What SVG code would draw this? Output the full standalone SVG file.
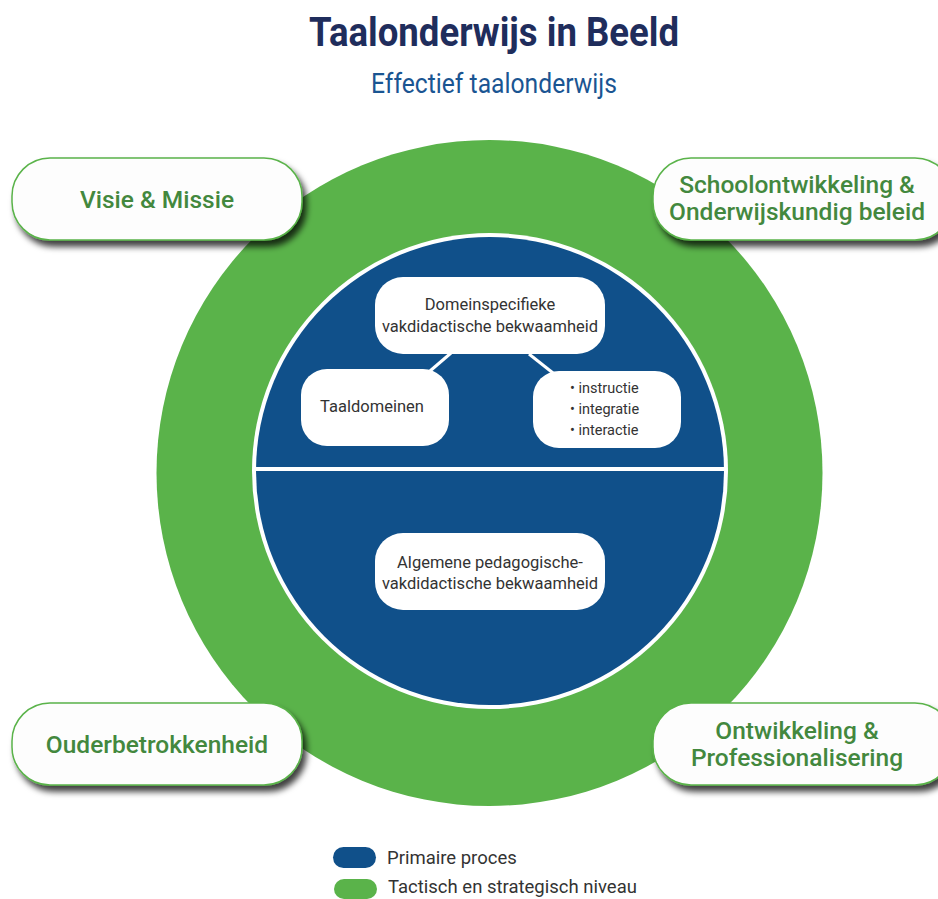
<svg xmlns="http://www.w3.org/2000/svg" width="938" height="899" viewBox="0 0 938 899">
<defs>
<style>
.title{font-family:Roboto,"Liberation Sans",sans-serif;font-weight:bold;fill:#1f2d5c;font-size:40px}
.sub{font-family:Roboto,"Liberation Sans",sans-serif;fill:#1a5592;font-size:27px}
.gbox{fill:#fdfdfd;stroke:#5ab34a;stroke-width:1.5}
.gtxt{font-family:Roboto,"Liberation Sans",sans-serif;font-weight:500;fill:#43883e;font-size:24.5px;text-anchor:middle}
.wbox{fill:#ffffff}
.itxt{font-family:Roboto,"Liberation Sans",sans-serif;fill:#333333;font-size:16.5px;text-anchor:middle}
.btxt{font-family:Roboto,"Liberation Sans",sans-serif;fill:#333333;font-size:14.5px}
.ltxt{font-family:Roboto,"Liberation Sans",sans-serif;fill:#333333;font-size:18.5px}
.conn{stroke:#ffffff;stroke-width:3}
</style>
<filter id="sh" x="-20%" y="-30%" width="150%" height="170%">
<feDropShadow dx="4" dy="6" stdDeviation="3" flood-color="#000" flood-opacity="0.75"/>
</filter>
</defs>
<rect width="938" height="899" fill="#ffffff"/>
<text class="title" x="494" y="46" text-anchor="middle" textLength="370" lengthAdjust="spacingAndGlyphs">Taalonderwijs in Beeld</text>
<text class="sub" x="494" y="93" text-anchor="middle" textLength="246" lengthAdjust="spacingAndGlyphs">Effectief taalonderwijs</text>

<g id="outer-circle"><circle cx="489.5" cy="473" r="333" fill="#5ab34a"/></g>
<g id="inner-circle">
<circle cx="490" cy="471" r="238" fill="#ffffff"/>
<circle cx="490" cy="471" r="234" fill="#10508a"/>
<line x1="254" y1="469" x2="726" y2="469" stroke="#ffffff" stroke-width="4"/>
</g>

<g id="connectors">
<line class="conn" x1="451" y1="353" x2="430" y2="371"/>
<line class="conn" x1="529" y1="354" x2="553" y2="373"/>
</g>

<g id="domein"><rect class="wbox" x="375" y="277" width="230" height="77" rx="28"/>
<text class="itxt" x="490" y="310">Domeinspecifieke</text>
<text class="itxt" x="490" y="332">vakdidactische bekwaamheid</text></g>
<g id="taaldomeinen"><rect class="wbox" x="301" y="369" width="148" height="77" rx="26"/>
<text class="itxt" x="372" y="412">Taaldomeinen</text></g>
<g id="bullets"><rect class="wbox" x="533" y="371" width="148" height="77" rx="26"/>
<text class="btxt" x="570" y="393">• instructie</text>
<text class="btxt" x="570" y="414">• integratie</text>
<text class="btxt" x="570" y="435">• interactie</text></g>
<g id="algemeen"><rect class="wbox" x="375" y="533" width="230" height="77" rx="28"/>
<text class="itxt" x="490" y="568">Algemene pedagogische-</text>
<text class="itxt" x="490" y="589">vakdidactische bekwaamheid</text></g>

<g id="visie"><rect class="gbox" x="12" y="158" width="290" height="82" rx="38" filter="url(#sh)"/>
<text class="gtxt" x="157" y="208">Visie &amp; Missie</text></g>
<g id="school"><rect class="gbox" x="653" y="158" width="300" height="82" rx="38" filter="url(#sh)"/>
<text class="gtxt" x="797" y="193">Schoolontwikkeling &amp;</text>
<text class="gtxt" x="797" y="220">Onderwijskundig beleid</text></g>
<g id="ouder"><rect class="gbox" x="12" y="703" width="290" height="82" rx="38" filter="url(#sh)"/>
<text class="gtxt" x="157" y="753">Ouderbetrokkenheid</text></g>
<g id="ontw"><rect class="gbox" x="653" y="703" width="300" height="82" rx="38" filter="url(#sh)"/>
<text class="gtxt" x="797" y="739">Ontwikkeling &amp;</text>
<text class="gtxt" x="797" y="766">Professionalisering</text></g>

<g id="legend">
<rect x="333" y="847" width="43" height="21" rx="10.5" fill="#10508a"/>
<text class="ltxt" x="387" y="864">Primaire proces</text>
<rect x="334" y="879" width="43" height="20" rx="10" fill="#5ab34a"/>
<text class="ltxt" x="388" y="893">Tactisch en strategisch niveau</text>
</g>
</svg>
